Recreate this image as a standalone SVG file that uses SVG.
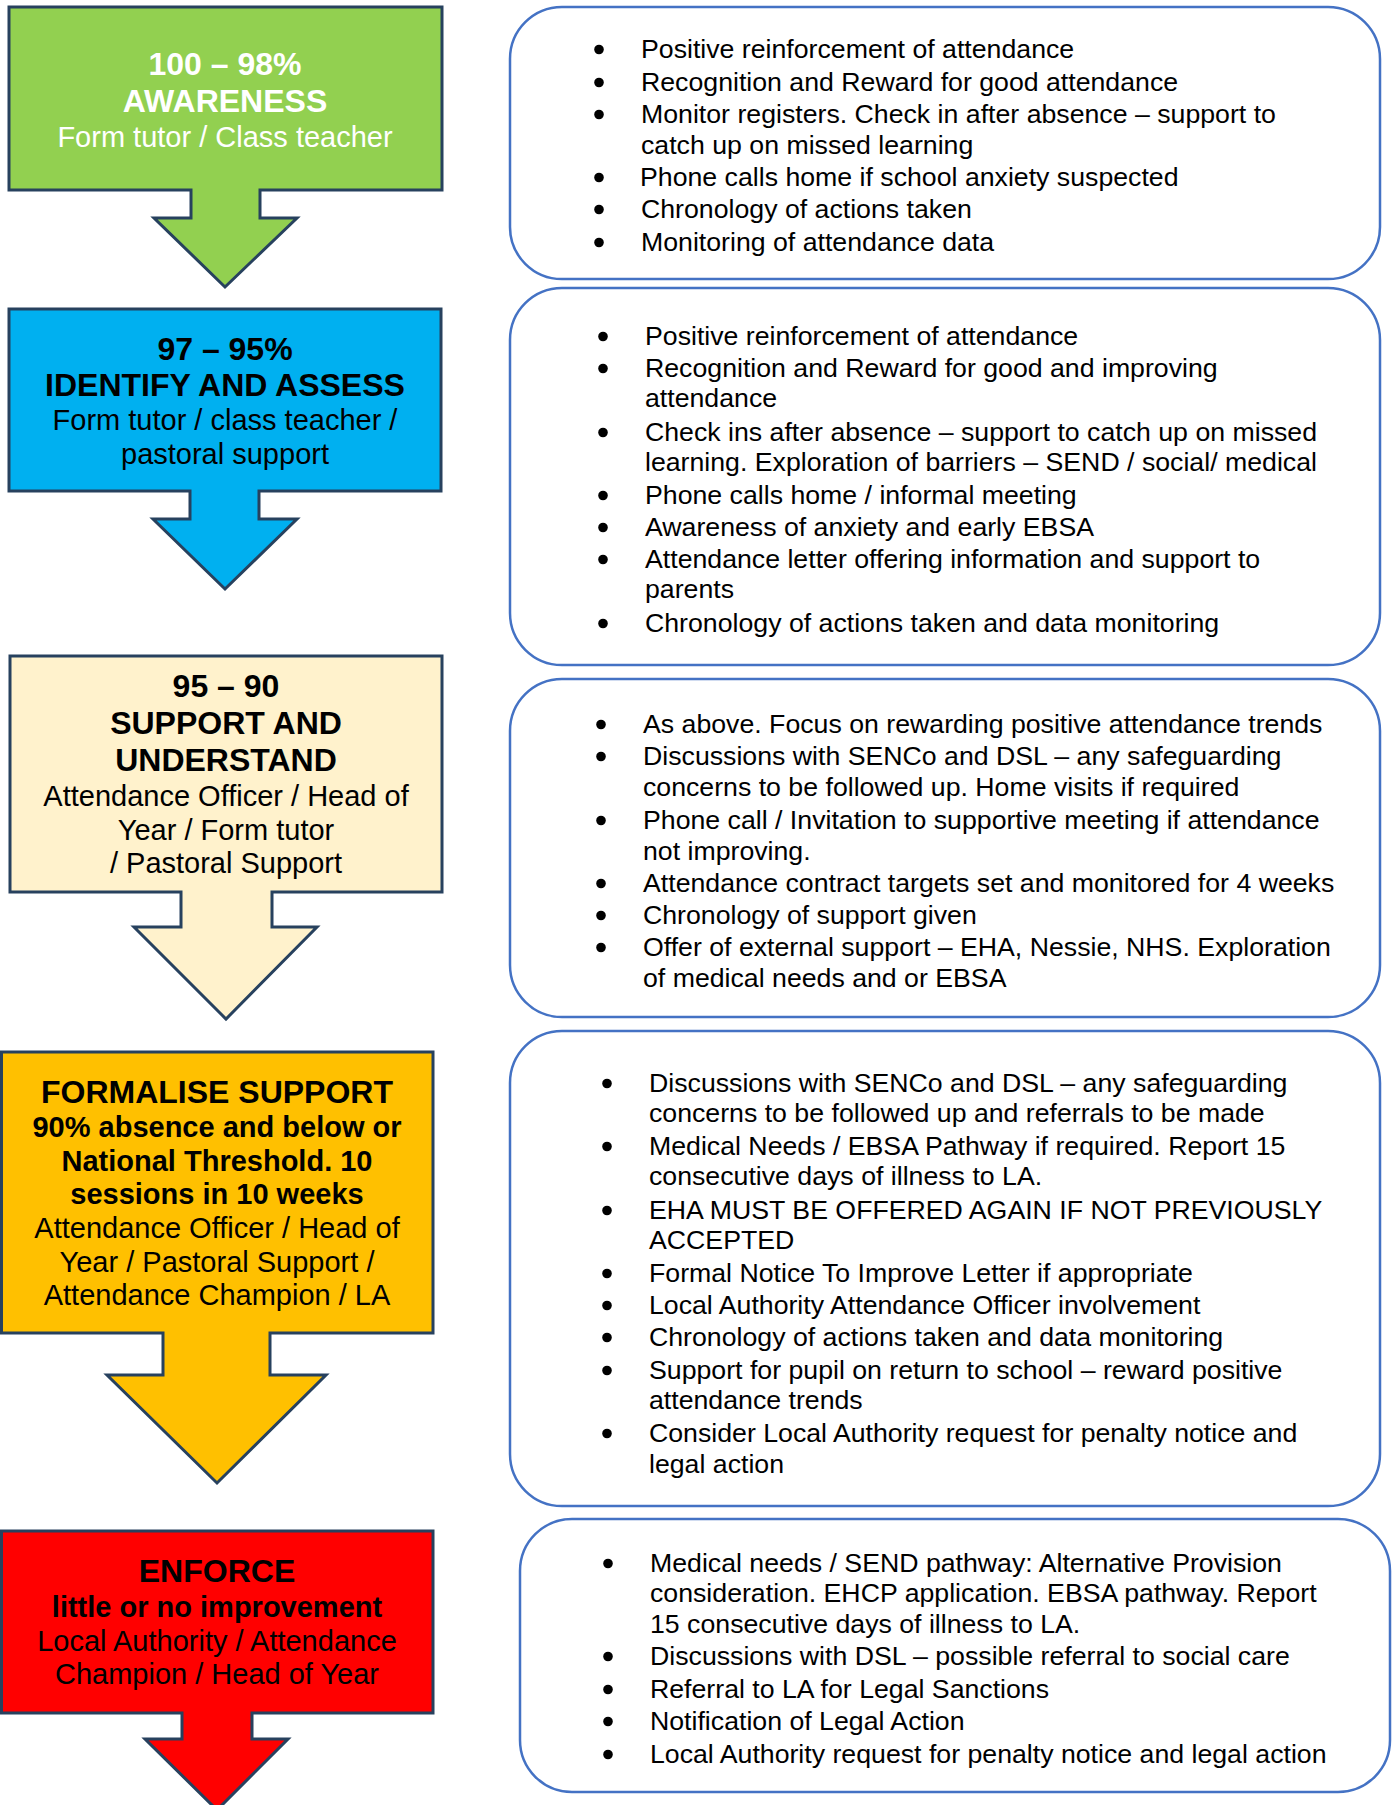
<svg xmlns="http://www.w3.org/2000/svg" width="1394" height="1805" viewBox="0 0 1394 1805">
<style>
.stage{stroke:#27415E;stroke-width:3;stroke-linejoin:miter}
.t{font-family:"Liberation Sans",Arial,sans-serif;text-anchor:middle}
.b{font-weight:bold;font-size:32px}
.sb{font-weight:bold;font-size:29px}
.r{font-size:29px}
.card{fill:#FFFFFF;stroke:#4472C4;stroke-width:2.5}
.li{font-family:"Liberation Sans",Arial,sans-serif;font-size:26.7px;fill:#000}
.dot{fill:#000}
</style>
<defs>
<circle id="bul" r="4.8"/>
</defs>
<rect width="1394" height="1805" fill="#FFFFFF"/>

<g id="stage1">
<path class="stage" fill="#92D050" d="M9,7 H442 V190 H260 V218 H297 L225,287 L154,218 H191 V190 H9 Z"/>
<text class="t b" x="225" y="75" fill="#FFFFFF">100 – 98%</text>
<text class="t b" x="225" y="112" fill="#FFFFFF">AWARENESS</text>
<text class="t r" x="225" y="147" fill="#FFFFFF">Form tutor / Class teacher</text>
</g>

<g id="stage2">
<path class="stage" fill="#00B0F0" d="M9,309 H441 V491 H259 V519 H297 L225,589 L153,519 H190 V491 H9 Z"/>
<text class="t b" x="225" y="360" fill="#000">97 – 95%</text>
<text class="t b" x="225" y="396" fill="#000">IDENTIFY AND ASSESS</text>
<text class="t r" x="225" y="430" fill="#000">Form tutor / class teacher /</text>
<text class="t r" x="225" y="464" fill="#000">pastoral support</text>
</g>

<g id="stage3">
<path class="stage" fill="#FFF2CC" d="M10,656 H442 V892 H272 V927 H317 L226,1019 L134,927 H181 V892 H10 Z"/>
<text class="t b" x="226" y="697" fill="#000">95 – 90</text>
<text class="t b" x="226" y="734" fill="#000">SUPPORT AND</text>
<text class="t b" x="226" y="771" fill="#000">UNDERSTAND</text>
<text class="t r" x="226" y="806" fill="#000">Attendance Officer / Head of</text>
<text class="t r" x="226" y="840" fill="#000">Year / Form tutor</text>
<text class="t r" x="226" y="873" fill="#000">/ Pastoral Support</text>
</g>

<g id="stage4">
<path class="stage" fill="#FFC000" d="M1.5,1052 H433 V1333 H270 V1375 H326 L217,1483 L107,1375 H163 V1333 H1.5 Z"/>
<text class="t b" x="217" y="1103" fill="#000">FORMALISE SUPPORT</text>
<text class="t sb" x="217" y="1137" fill="#000">90% absence and below or</text>
<text class="t sb" x="217" y="1171" fill="#000">National Threshold. 10</text>
<text class="t sb" x="217" y="1204" fill="#000">sessions in 10 weeks</text>
<text class="t r" x="217" y="1238" fill="#000">Attendance Officer / Head of</text>
<text class="t r" x="217" y="1272" fill="#000">Year / Pastoral Support /</text>
<text class="t r" x="217" y="1305" fill="#000">Attendance Champion / LA</text>
</g>

<g id="stage5">
<path class="stage" fill="#FF0000" d="M1.5,1531 H433 V1713 H252 V1739 H288 L217,1810 L145,1739 H182 V1713 H1.5 Z"/>
<text class="t b" x="217" y="1582" fill="#000">ENFORCE</text>
<text class="t sb" x="217" y="1617" fill="#000">little or no improvement</text>
<text class="t r" x="217" y="1651" fill="#000">Local Authority / Attendance</text>
<text class="t r" x="217" y="1684" fill="#000">Champion / Head of Year</text>
</g>

<g id="actions1">
<rect class="card" x="510" y="7" width="870" height="272" rx="52"/>
<g class="dot">
<use href="#bul" x="599" y="49.5"/><use href="#bul" x="599" y="82.5"/><use href="#bul" x="599" y="114.5"/>
<use href="#bul" x="599" y="177.5"/><use href="#bul" x="599" y="209.5"/><use href="#bul" x="599" y="242.5"/>
</g>
<g class="li">
<text x="641" y="58">Positive reinforcement of attendance</text>
<text x="641" y="91">Recognition and Reward for good attendance</text>
<text x="641" y="123">Monitor registers. Check in after absence – support to</text>
<text x="641" y="154">catch up on missed learning</text>
<text x="640" y="186">Phone calls home if school anxiety suspected</text>
<text x="641" y="218">Chronology of actions taken</text>
<text x="641" y="251">Monitoring of attendance data</text>
</g>
</g>

<g id="actions2">
<rect class="card" x="510" y="288" width="870" height="377" rx="52"/>
<g class="dot">
<use href="#bul" x="603" y="336.5"/><use href="#bul" x="603" y="368.5"/><use href="#bul" x="603" y="432.5"/>
<use href="#bul" x="603" y="495.5"/><use href="#bul" x="603" y="527.5"/><use href="#bul" x="603" y="559.5"/>
<use href="#bul" x="603" y="623.5"/>
</g>
<g class="li">
<text x="645" y="345">Positive reinforcement of attendance</text>
<text x="645" y="377">Recognition and Reward for good and improving</text>
<text x="645" y="407">attendance</text>
<text x="645" y="441">Check ins after absence – support to catch up on missed</text>
<text x="645" y="471">learning. Exploration of barriers – SEND / social/ medical</text>
<text x="645" y="504">Phone calls home / informal meeting</text>
<text x="645" y="536">Awareness of anxiety and early EBSA</text>
<text x="645" y="568">Attendance letter offering information and support to</text>
<text x="645" y="598">parents</text>
<text x="645" y="632">Chronology of actions taken and data monitoring</text>
</g>
</g>

<g id="actions3">
<rect class="card" x="510" y="679" width="870" height="338" rx="52"/>
<g class="dot">
<use href="#bul" x="601" y="724.5"/><use href="#bul" x="601" y="756.5"/><use href="#bul" x="601" y="820.5"/>
<use href="#bul" x="601" y="883.5"/><use href="#bul" x="601" y="915.5"/><use href="#bul" x="601" y="947.5"/>
</g>
<g class="li">
<text x="643" y="733">As above. Focus on rewarding positive attendance trends</text>
<text x="643" y="765">Discussions with SENCo and DSL – any safeguarding</text>
<text x="643" y="796">concerns to be followed up. Home visits if required</text>
<text x="643" y="829">Phone call / Invitation to supportive meeting if attendance</text>
<text x="643" y="860">not improving.</text>
<text x="643" y="892">Attendance contract targets set and monitored for 4 weeks</text>
<text x="643" y="924">Chronology of support given</text>
<text x="643" y="956">Offer of external support – EHA, Nessie, NHS. Exploration</text>
<text x="643" y="987">of medical needs and or EBSA</text>
</g>
</g>

<g id="actions4">
<rect class="card" x="510" y="1031" width="870" height="475" rx="52"/>
<g class="dot">
<use href="#bul" x="607" y="1083.5"/><use href="#bul" x="607" y="1146.5"/><use href="#bul" x="607" y="1210.5"/>
<use href="#bul" x="607" y="1273.5"/><use href="#bul" x="607" y="1305.5"/><use href="#bul" x="607" y="1337.5"/>
<use href="#bul" x="607" y="1370.5"/><use href="#bul" x="607" y="1433.5"/>
</g>
<g class="li">
<text x="649" y="1092">Discussions with SENCo and DSL – any safeguarding</text>
<text x="649" y="1122">concerns to be followed up and referrals to be made</text>
<text x="649" y="1155">Medical Needs / EBSA Pathway if required. Report 15</text>
<text x="649" y="1185">consecutive days of illness to LA.</text>
<text x="649" y="1219">EHA MUST BE OFFERED AGAIN IF NOT PREVIOUSLY</text>
<text x="649" y="1249">ACCEPTED</text>
<text x="649" y="1282">Formal Notice To Improve Letter if appropriate</text>
<text x="649" y="1314">Local Authority Attendance Officer involvement</text>
<text x="649" y="1346">Chronology of actions taken and data monitoring</text>
<text x="649" y="1379">Support for pupil on return to school – reward positive</text>
<text x="649" y="1409">attendance trends</text>
<text x="649" y="1442">Consider Local Authority request for penalty notice and</text>
<text x="649" y="1473">legal action</text>
</g>
</g>

<g id="actions5">
<rect class="card" x="520" y="1519" width="870" height="273" rx="52"/>
<g class="dot">
<use href="#bul" x="608" y="1563.5"/><use href="#bul" x="608" y="1656.5"/><use href="#bul" x="608" y="1689.5"/>
<use href="#bul" x="608" y="1721.5"/><use href="#bul" x="608" y="1754.5"/>
</g>
<g class="li">
<text x="650" y="1572">Medical needs / SEND pathway: Alternative Provision</text>
<text x="650" y="1602">consideration. EHCP application. EBSA pathway. Report</text>
<text x="650" y="1633">15 consecutive days of illness to LA.</text>
<text x="650" y="1665">Discussions with DSL – possible referral to social care</text>
<text x="650" y="1698">Referral to LA for Legal Sanctions</text>
<text x="650" y="1730">Notification of Legal Action</text>
<text x="650" y="1763">Local Authority request for penalty notice and legal action</text>
</g>
</g>

<g id="connectors"></g>
</svg>
